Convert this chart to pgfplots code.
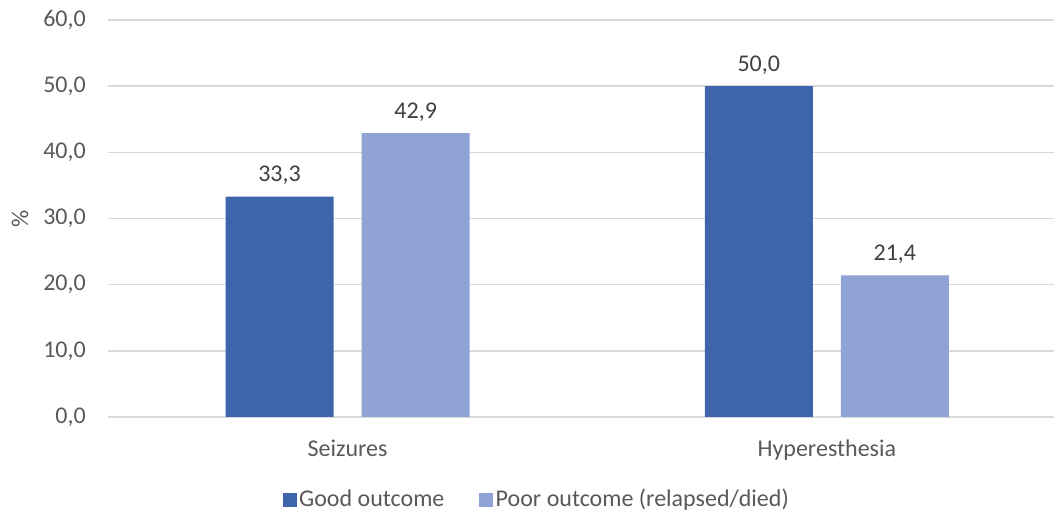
\documentclass[border=0pt]{standalone}
\usepackage{pgfplots}
\pgfplotsset{compat=1.18}
\usepackage{fontspec}
\setmainfont{Carlito}
\definecolor{goodblue}{HTML}{3E64AC}
\definecolor{poorblue}{HTML}{8FA4D5}
\definecolor{gridgray}{HTML}{D9D9D9}
\definecolor{ticktext}{HTML}{595959}
\definecolor{labeltext}{HTML}{404040}
\begin{document}
\fontsize{18}{22}\selectfont
\begin{tikzpicture}
\useasboundingbox (-81pt,-72pt) rectangle (709.5pt,312.75pt);
\begin{axis}[
  at={(0pt,0pt)}, anchor=south west,
  scale only axis,
  width=709.5pt, height=297.75pt,
  xmin=-0.5, xmax=1.474,
  ymin=0, ymax=60,
  ytick={0,10,...,60},
  xtick={0,1},
  xticklabels={Seizures, Hyperesthesia},
  axis line style={draw=none},
  major tick length=0pt,
  ymajorgrids,
  grid style={gridgray, line width=1.1pt},
  yticklabel style={anchor=east, inner sep=0pt, xshift=-16.5pt, text=ticktext,
    /pgf/number format/.cd, fixed, fixed zerofill, precision=1, use comma, assume math mode=true},
  xticklabel style={anchor=base, inner sep=0pt, yshift=-29.5pt, text=ticktext},
  ylabel={\%},
  ylabel style={at={(rel axis cs:-0.093,0.5)}, anchor=center, text=ticktext},
  ybar, bar width=0.2255,
  nodes near coords,
  nodes near coords style={anchor=base, inner sep=0pt, yshift=11pt, text=labeltext,
    /pgf/number format/.cd, fixed, fixed zerofill, precision=1, use comma, assume math mode=true},
  legend style={at={(rel axis cs:0.4535,-0.209)}, anchor=center, draw=none,
    legend columns=2, text=ticktext,
    /tikz/every even column/.append style={column sep=24pt}},
  legend image code/.code={\fill[#1] (0pt,-5pt) rectangle (10.5pt,5.5pt);},
  legend cell align=left,
]
\addplot[fill=goodblue, draw=none, bar shift=-0.142] coordinates {(0,33.3) (1,50.0)};
\addplot[fill=poorblue, draw=none, bar shift=0.142] coordinates {(0,42.9) (1,21.4)};
\legend{Good outcome, Poor outcome (relapsed/died)}
\end{axis}
\end{tikzpicture}
\end{document}
